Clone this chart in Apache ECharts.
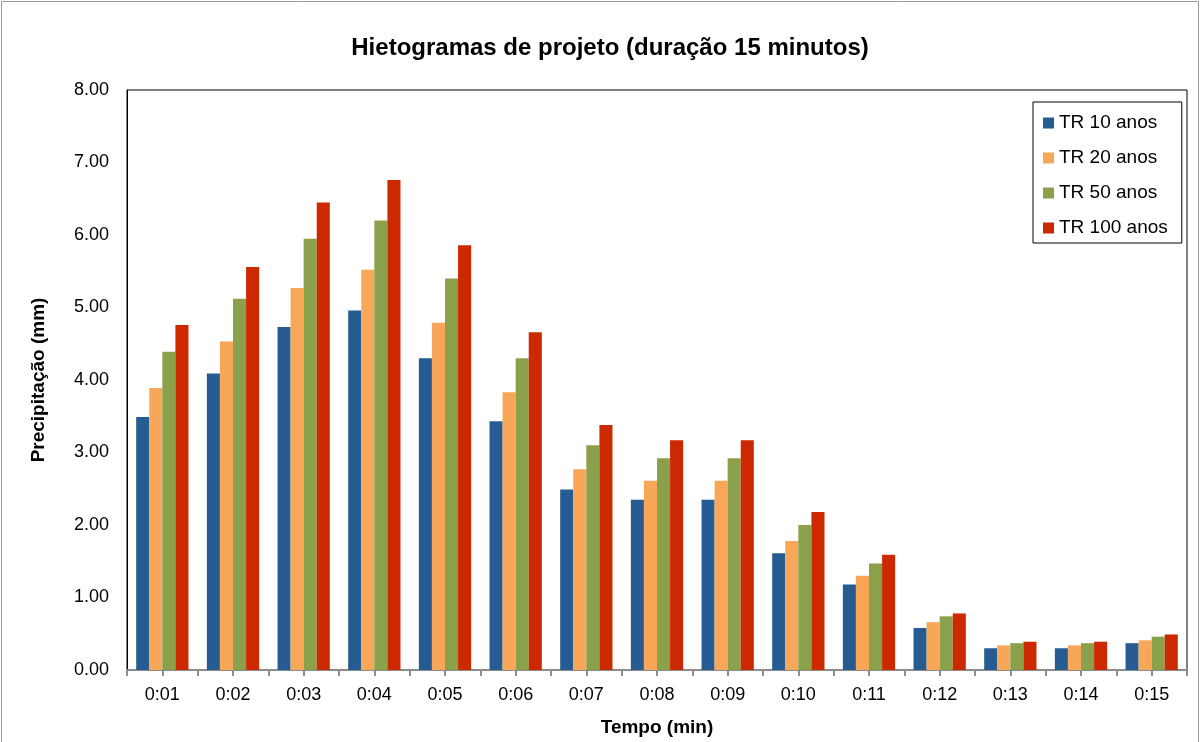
<!DOCTYPE html>
<html>
<head>
<meta charset="utf-8">
<title>Hietogramas de projeto</title>
<script src="https://cdn.jsdelivr.net/npm/echarts@6/dist/echarts.min.js"></script>
<style>
  html, body {
    margin: 0;
    padding: 0;
    background: #fff;
  }
  #chart {
    width: 1201px;
    height: 742px;
  }
</style>
</head>
<body>
<div id="chart"></div>
<script>
// tempo (min)
var categories = ['0:01', '0:02', '0:03', '0:04', '0:05', '0:06', '0:07', '0:08',
  '0:09', '0:10', '0:11', '0:12', '0:13', '0:14', '0:15'];

// precipitação (mm) por tempo de retorno
var tr10 = [3.49, 4.09, 4.73, 4.96, 4.30, 3.43, 2.49, 2.35, 2.35, 1.61, 1.18, 0.58, 0.30, 0.30, 0.37];
var tr20 = [3.89, 4.53, 5.27, 5.52, 4.79, 3.83, 2.77, 2.61, 2.61, 1.78, 1.30, 0.66, 0.34, 0.34, 0.41];
var tr50 = [4.39, 5.12, 5.95, 6.20, 5.40, 4.30, 3.10, 2.92, 2.92, 2.00, 1.47, 0.74, 0.37, 0.37, 0.46];
var tr100 = [4.76, 5.56, 6.45, 6.76, 5.86, 4.66, 3.38, 3.17, 3.17, 2.18, 1.59, 0.78, 0.39, 0.39, 0.49];

var seriesNames = ['TR 10 anos', 'TR 20 anos', 'TR 50 anos', 'TR 100 anos'];
var colors = ['#265C91', '#F8A758', '#8AA04A', '#CD2900'];

// ticks at category edges and centres (Excel style)
var halfTicks = [];
for (var i = 0; i < categories.length * 2; i++) {
  halfTicks.push('');
}

var font = 'Liberation Sans, Arial, sans-serif';

function makeBar(name, data, color) {
  return {
    name: name,
    type: 'bar',
    data: data,
    barGap: '0%',
    barCategoryGap: '26%',
    itemStyle: {
      color: color,
    },
  };
}

let myChart = echarts.init(document.getElementById('chart'));
myChart.setOption({
  backgroundColor: '#fff',
  color: colors,
  animation: false,
  textStyle: {
    fontFamily: font,
  },
  title: {
    text: 'Hietogramas de projeto (duração 15 minutos)',
    left: 605,
    top: 31,
    textAlign: 'center',
    textStyle: {
      fontFamily: font,
      fontSize: 24,
      fontWeight: 'bold',
      color: '#000',
    },
  },
  legend: {
    orient: 'vertical',
    left: 1033,
    top: 102,
    padding: [11, 14, 5, 10],
    itemWidth: 11,
    itemHeight: 11,
    itemGap: 15,
    itemStyle: {
      borderWidth: 0,
    },
    borderColor: '#000',
    borderWidth: 1,
    icon: 'rect',
    data: seriesNames,
    textStyle: {
      fontFamily: font,
      fontSize: 19,
      lineHeight: 20,
      color: '#000',
    },
  },
  grid: {
    left: 127,
    right: 14,
    top: 90,
    bottom: 72,
    show: true,
    borderColor: '#000',
    borderWidth: 1,
    backgroundColor: '#fff',
  },
  xAxis: [
    {
      type: 'category',
      data: categories,
      position: 'bottom',
      name: 'Tempo (min)',
      nameLocation: 'middle',
      nameGap: 48,
      nameTextStyle: {
        fontFamily: font,
        fontSize: 19,
        fontWeight: 'bold',
        color: '#000',
      },
      axisLine: {
        lineStyle: {
          color: '#8c8c8c',
          width: 2,
        },
      },
      axisTick: {
        show: false,
      },
      axisLabel: {
        margin: 16,
        fontFamily: font,
        fontSize: 18,
        color: '#000',
      },
    },
    {
      // only draws the tick marks
      type: 'category',
      data: halfTicks,
      position: 'bottom',
      axisLine: {
        show: false,
      },
      axisLabel: {
        show: false,
      },
      axisTick: {
        show: true,
        length: 6,
        lineStyle: {
          color: '#8c8c8c',
          width: 2,
        },
      },
    },
  ],
  yAxis: {
    type: 'value',
    min: 0,
    max: 8,
    interval: 1,
    name: 'Precipitação (mm)',
    nameLocation: 'middle',
    nameGap: 79,
    nameTextStyle: {
      fontFamily: font,
      fontSize: 19,
      fontWeight: 'bold',
      color: '#000',
    },
    axisLine: {
      show: true,
      lineStyle: {
        color: '#000',
        width: 1,
      },
    },
    axisTick: {
      show: false,
    },
    splitLine: {
      show: false,
    },
    axisLabel: {
      margin: 18,
      fontFamily: font,
      fontSize: 18,
      color: '#000',
      formatter: function (v) {
        return v.toFixed(2);
      },
    },
  },
  graphic: [
    {
      // moldura externa do gráfico
      type: 'rect',
      shape: { x: 1.5, y: 1.5, width: 1197, height: 745 },
      style: { fill: 'none', stroke: '#9a9a9a', lineWidth: 1 },
      silent: true,
    },
  ],
  series: [
    makeBar(seriesNames[0], tr10, colors[0]),
    makeBar(seriesNames[1], tr20, colors[1]),
    makeBar(seriesNames[2], tr50, colors[2]),
    makeBar(seriesNames[3], tr100, colors[3]),
  ],
});
</script>
</body>
</html>
